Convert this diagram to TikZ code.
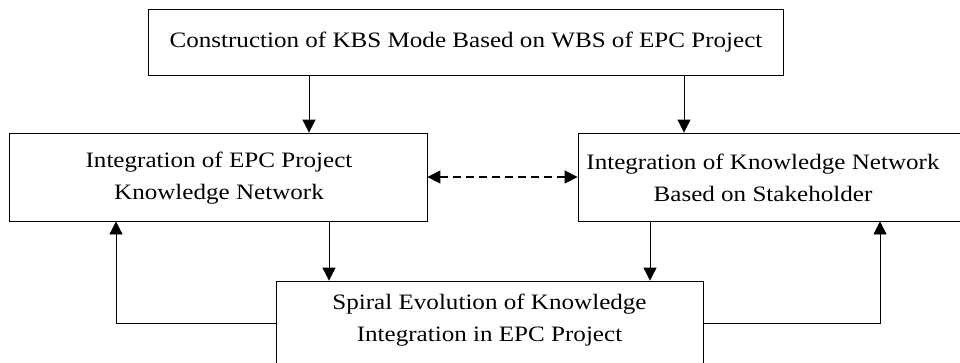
\documentclass[tikz,border=0pt]{standalone}
\usepackage{fontspec}
\setmainfont[FakeStretch=1.14]{Liberation Serif}
\usetikzlibrary{arrows.meta}
\begin{document}
\begin{tikzpicture}[x=1pt,y=-1pt,
  box/.style={draw, line width=0.8pt, inner sep=0pt, minimum height=#1},
  box/.default=66pt,
  lbl/.style={font=\fontsize{22}{32}\selectfont, align=center, inner sep=0pt},
  arr/.style={line width=0.8pt, -{Triangle[length=13pt,width=13pt]}},
  darr/.style={line width=1.3pt, dash pattern=on 8pt off 5pt,
    {Triangle[length=13pt,width=13pt]}-{Triangle[length=13pt,width=13pt]}}]
  \useasboundingbox (0,0) rectangle (960,362);
  \clip (0,0) rectangle (960,362);
  % boxes
  \node[box, minimum width=635pt] (top) at (465.5,42) {};
  \node[lbl] (toptext) at (466,42) {Construction of KBS Mode Based on WBS of EPC Project};
  \node[box=88pt, minimum width=418pt] (left) at (218,177) {};
  \node[lbl] (lefttext) at (219,178) {Integration of EPC Project\\Knowledge Network};
  \node[box=88pt, minimum width=422pt] (right) at (789,177) {};
  \node[lbl] (righttext) at (763,178) {Integration of Knowledge Network\\Based on Stakeholder};
  \node[box=110pt, minimum width=427pt] (bottom) at (489.5,336) {};
  \node[lbl] (bottomtext) at (489.5,320) {Spiral Evolution of Knowledge\\Integration in EPC Project};
  % guide positions for the connectors
  \coordinate (xa) at (309,0);
  \coordinate (xb) at (684,0);
  \coordinate (xc) at (329,0);
  \coordinate (xd) at (650,0);
  \coordinate (xl) at (116,0);
  \coordinate (xr) at (880,0);
  \coordinate (yf) at (0,323);
  % connectors
  \draw[arr] (top.south -| xa) -- (left.north -| xa);
  \draw[arr] (top.south -| xb) -- (right.north -| xb);
  \draw[arr] (left.south -| xc) -- (bottom.north -| xc);
  \draw[arr] (right.south -| xd) -- (bottom.north -| xd);
  \draw[darr] (left.east) -- (right.west);
  \draw[arr] (bottom.west |- yf) -| (left.south -| xl);
  \draw[arr] (bottom.east |- yf) -| (right.south -| xr);
\end{tikzpicture}
\end{document}
